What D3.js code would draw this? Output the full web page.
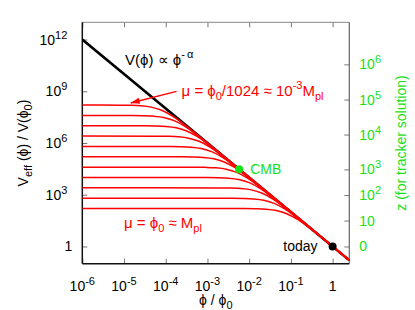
<!DOCTYPE html>
<html><head><meta charset="utf-8">
<script src="https://cdn.jsdelivr.net/npm/d3@7/dist/d3.min.js"></script>
<style>
body{margin:0;background:#fff}
text{font-family:"Liberation Sans",Arial,Helvetica,sans-serif}
</style>
</head><body>
<svg id="chart" width="415" height="310"></svg>
<script>
// ---------- data ----------
const xTickValues = [1e-6, 1e-5, 1e-4, 1e-3, 1e-2, 1e-1, 1];
const xTickBase   = ["10","10","10","10","10","10","1"];
const xTickExp    = ["-6","-5","-4","-3","-2","-1",""];

const yTickValues = [1, 1e3, 1e6, 1e9, 1e12];
const yTickBase   = ["1","10","10","10","10"];
const yTickExp    = ["","3","6","9","12"];

// right axis: redshift z of the tracker solution, at the V value it corresponds to
const zTickBase   = ["0","10","10","10","10","10","10"];
const zTickExp    = ["","","2","3","4","5","6"];
const zTickAtV    = [1, 31.6, 955, 2.95e4, 3.09e6, 3.31e8, 3.63e10];

// tracker potential V(phi) ∝ phi^-alpha
const trackerPhi = [1e-6, 2.512];
const trackerV   = [1e12, 0.158];

// effective potentials for mu = phi0, phi0/2, ..., phi0/1024  : [log10 phi, log10 V]
const muCurve0  = [[-6,2.2],[-2.1,2.196],[-1.85,2.187],[-1.6,2.159],[-1.35,2.081],[-1.1,1.899],[-0.85,1.581],[-0.6,1.159],[-0.35,0.687],[-0.1,0.196],[0.4,-0.8]];
const muCurve1  = [[-6,2.8],[-2.4,2.796],[-2.15,2.787],[-1.9,2.759],[-1.65,2.681],[-1.4,2.499],[-1.15,2.181],[-0.9,1.759],[-0.65,1.287],[-0.4,0.796],[0.4,-0.8]];
const muCurve2  = [[-6,3.4],[-2.7,3.396],[-2.45,3.387],[-2.2,3.359],[-1.95,3.281],[-1.7,3.099],[-1.45,2.781],[-1.2,2.359],[-0.95,1.887],[-0.7,1.396],[0.4,-0.8]];
const muCurve3  = [[-6,4.0],[-3.0,3.996],[-2.75,3.987],[-2.5,3.959],[-2.25,3.881],[-2.0,3.699],[-1.75,3.381],[-1.5,2.959],[-1.25,2.487],[-1.0,1.996],[0.4,-0.8]];
const muCurve4  = [[-6,4.6],[-3.3,4.596],[-3.05,4.587],[-2.8,4.559],[-2.55,4.481],[-2.3,4.299],[-2.05,3.981],[-1.8,3.559],[-1.55,3.087],[-1.3,2.596],[0.4,-0.8]];
const muCurve5  = [[-6,5.2],[-3.6,5.196],[-3.35,5.187],[-3.1,5.159],[-2.85,5.081],[-2.6,4.899],[-2.35,4.581],[-2.1,4.159],[-1.85,3.687],[-1.6,3.196],[0.4,-0.8]];
const muCurve6  = [[-6,5.8],[-3.9,5.796],[-3.65,5.787],[-3.4,5.759],[-3.15,5.681],[-2.9,5.499],[-2.65,5.181],[-2.4,4.759],[-2.15,4.287],[-1.9,3.796],[0.4,-0.8]];
const muCurve7  = [[-6,6.4],[-4.2,6.396],[-3.95,6.387],[-3.7,6.359],[-3.45,6.281],[-3.2,6.099],[-2.95,5.781],[-2.7,5.359],[-2.45,4.887],[-2.2,4.396],[0.4,-0.8]];
const muCurve8  = [[-6,7.0],[-4.5,6.996],[-4.25,6.987],[-4.0,6.959],[-3.75,6.881],[-3.5,6.699],[-3.25,6.381],[-3.0,5.959],[-2.75,5.487],[-2.5,4.996],[0.4,-0.8]];
const muCurve9  = [[-6,7.6],[-4.8,7.596],[-4.55,7.587],[-4.3,7.559],[-4.05,7.481],[-3.8,7.299],[-3.55,6.981],[-3.3,6.559],[-3.05,6.087],[-2.8,5.596],[0.4,-0.8]];
const muCurve10 = [[-6,8.2],[-5.1,8.196],[-4.85,8.187],[-4.6,8.159],[-4.35,8.081],[-4.1,7.899],[-3.85,7.581],[-3.6,7.159],[-3.35,6.687],[-3.1,6.196],[0.4,-0.8]];
const muCurves = [muCurve0,muCurve1,muCurve2,muCurve3,muCurve4,muCurve5,muCurve6,muCurve7,muCurve8,muCurve9,muCurve10];

const cmbPoint   = [5.75e-3, 3.02e4];
const todayPoint = [1, 1];

// ---------- layout ----------
const L = 82.3, R = 349.3, T = 22.3, B = 263.7;
const svg = d3.select("#chart");
const x = d3.scaleLog().domain([1e-6, Math.pow(10,0.4)]).range([L, R]);
const y = d3.scaleLog().domain([0.1, 1e13]).range([B, T]);
const RED = "#ff0000", GREEN = "#16e016";
const FS = 14, SUP = 11, AFS = 15;

svg.append("defs").append("clipPath").attr("id","clip")
  .append("rect").attr("x",L).attr("y",T).attr("width",R-L).attr("height",B-T);

// axes (ticks via d3.axis)
const gx = svg.append("g").attr("transform",`translate(0,${B})`)
  .call(d3.axisBottom(x).tickValues(xTickValues).tickSize(-5).tickSizeOuter(0).tickFormat(""));
const gxt = svg.append("g").attr("transform",`translate(0,${T})`)
  .call(d3.axisTop(x).tickValues(xTickValues).tickSize(-5).tickSizeOuter(0).tickFormat(""));
const gy = svg.append("g").attr("transform",`translate(${L},0)`)
  .call(d3.axisLeft(y).tickValues(yTickValues).tickSize(-5).tickSizeOuter(0).tickFormat(""));
const gz = svg.append("g").attr("transform",`translate(${R},0)`)
  .call(d3.axisRight(y).tickValues(zTickAtV).tickSize(-5).tickSizeOuter(0).tickFormat(""));
[gx,gxt,gy,gz].forEach(g=>{ g.select(".domain").remove(); g.selectAll("line").attr("stroke","#777").attr("stroke-width",1); });

// frame
svg.append("line").attr("x1",L).attr("x2",R).attr("y1",T).attr("y2",T).attr("stroke","#888").attr("stroke-width",1);
svg.append("line").attr("x1",R).attr("x2",R).attr("y1",T).attr("y2",B).attr("stroke","#666").attr("stroke-width",1.2);
svg.append("line").attr("x1",L).attr("x2",L).attr("y1",T).attr("y2",B).attr("stroke","#111").attr("stroke-width",1.5);
svg.append("line").attr("x1",L).attr("x2",R).attr("y1",B).attr("y2",B).attr("stroke","#111").attr("stroke-width",1.5);

function powLabel(sel, base, exp){
  sel.append("tspan").text(base);
  if(exp) sel.append("tspan").attr("dy",-6).attr("font-size",SUP).text(exp);
}

// x tick labels
xTickValues.forEach((v,i)=>{
  const t = svg.append("text").attr("x",x(v)).attr("y",B+27).attr("font-size",FS)
    .attr("text-anchor","middle").attr("fill","#000");
  powLabel(t, xTickBase[i], xTickExp[i]);
});
// y tick labels
yTickValues.forEach((v,i)=>{
  const t = svg.append("text").attr("x", yTickExp[i] ? L-15 : L-10).attr("y",y(v)+5).attr("font-size",FS)
    .attr("text-anchor","end").attr("fill","#000");
  powLabel(t, yTickBase[i], yTickExp[i]);
});
// z tick labels
zTickAtV.forEach((v,i)=>{
  const t = svg.append("text").attr("x",R+10).attr("y",y(v)+5).attr("font-size",FS)
    .attr("text-anchor","start").attr("fill",GREEN);
  powLabel(t, zTickBase[i], zTickExp[i]);
});

// axis titles
const xt = svg.append("text").attr("x",(L+R)/2).attr("y",305).attr("font-size",FS).attr("text-anchor","middle");
xt.append("tspan").text("ϕ / ϕ");
xt.append("tspan").attr("dy",4).attr("font-size",SUP).text("0");

const yt = svg.append("text").attr("transform",`translate(28,${(T+B)/2}) rotate(-90)`)
  .attr("font-size",FS).attr("text-anchor","middle");
yt.append("tspan").text("V");
yt.append("tspan").attr("dy",4).attr("font-size",SUP).text("eff");
yt.append("tspan").attr("dy",-4).text(" (ϕ) / V(ϕ");
yt.append("tspan").attr("dy",4).attr("font-size",SUP).text("0");
yt.append("tspan").attr("dy",-4).text(")");

svg.append("text").attr("transform",`translate(406,${(T+B)/2}) rotate(-90)`)
  .attr("font-size",FS).attr("text-anchor","middle").attr("fill",GREEN)
  .text("z (for tracker solution)");

// curves
const plot = svg.append("g").attr("clip-path","url(#clip)");
const line = d3.line().x(d=>x(d[0])).y(d=>y(d[1]));
plot.append("path").datum(trackerPhi.map((p,i)=>[p,trackerV[i]]))
  .attr("d",line).attr("fill","none").attr("stroke","#000").attr("stroke-width",2.6);

const curveLine = d3.line().x(d=>x(Math.pow(10,d[0]))).y(d=>y(Math.pow(10,d[1]))).curve(d3.curveMonotoneX);
plot.selectAll("path.mu").data(muCurves).join("path").attr("class","mu")
  .attr("d",curveLine).attr("fill","none").attr("stroke",RED).attr("stroke-width",1.5);

// arrow for the mu = phi0/1024 curve
const arrTail = [x(Math.pow(10,-3.74)), y(Math.pow(10,9.0))];
const arrTip  = [x(Math.pow(10,-4.84)), y(Math.pow(10,8.32))];
svg.append("line").attr("x1",arrTail[0]).attr("y1",arrTail[1])
  .attr("x2",arrTip[0]).attr("y2",arrTip[1]).attr("stroke",RED).attr("stroke-width",1.3);
{
  const dx = arrTail[0]-arrTip[0], dy = arrTail[1]-arrTip[1], len = Math.hypot(dx,dy);
  const ux = dx/len, uy = dy/len, hl = 9, hw = 3;
  const bx = arrTip[0]+ux*hl, by = arrTip[1]+uy*hl;
  svg.append("path").attr("d",`M${arrTip[0]},${arrTip[1]}L${bx-uy*hw},${by+ux*hw}L${bx+uy*hw},${by-ux*hw}Z`)
    .attr("fill",RED);
}

// points
svg.append("circle").attr("cx",x(cmbPoint[0])).attr("cy",y(cmbPoint[1])).attr("r",4).attr("fill",GREEN);
svg.append("circle").attr("cx",x(todayPoint[0])).attr("cy",y(todayPoint[1])).attr("r",4).attr("fill","#000");

svg.append("text").attr("x",x(cmbPoint[0])+11).attr("y",y(cmbPoint[1])+5).attr("font-size",FS)
  .attr("fill",GREEN).text("CMB");
svg.append("text").attr("x",x(todayPoint[0])-15).attr("y",y(todayPoint[1])+5).attr("font-size",FS)
  .attr("text-anchor","end").attr("fill","#000").text("today");

// annotations
const a1 = svg.append("text").attr("x",x(1e-5)+1).attr("y",y(Math.pow(10,10.55))).attr("font-size",AFS).attr("fill","#000");
a1.append("tspan").text("V(ϕ) ∝ ϕ");
a1.append("tspan").attr("dy",-7).attr("font-size",SUP).text("-\u2009α");

const a2 = svg.append("text").attr("x",x(Math.pow(10,-3.62))).attr("y",y(Math.pow(10,8.74))).attr("font-size",AFS).attr("fill",RED);
a2.append("tspan").text("μ = ϕ");
a2.append("tspan").attr("dy",4).attr("font-size",SUP).text("0");
a2.append("tspan").attr("dy",-4).text("/1024 ≈ 10");
a2.append("tspan").attr("dy",-7).attr("font-size",SUP).text("-3");
a2.append("tspan").attr("dy",7).text("M");
a2.append("tspan").attr("dy",4).attr("font-size",SUP).text("pl");

const a3 = svg.append("text").attr("x",x(Math.pow(10,-5.0))).attr("y",y(Math.pow(10,1.08))).attr("font-size",AFS).attr("fill",RED);
a3.append("tspan").text("μ = ϕ");
a3.append("tspan").attr("dy",4).attr("font-size",SUP).text("0");
a3.append("tspan").attr("dy",-4).text(" ≈ M");
a3.append("tspan").attr("dy",4).attr("font-size",SUP).text("pl");
</script>
</body></html>
